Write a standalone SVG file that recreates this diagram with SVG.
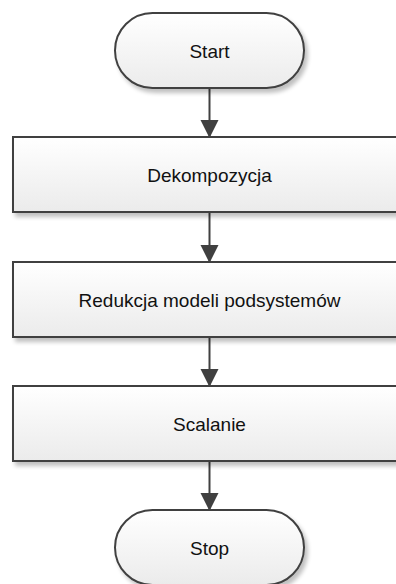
<svg xmlns="http://www.w3.org/2000/svg" width="396" height="584" viewBox="0 0 396 584">
  <defs>
    <linearGradient id="fillGrad" x1="0" y1="0" x2="0" y2="1">
      <stop offset="0" stop-color="#ffffff"/>
      <stop offset="1" stop-color="#ebebeb"/>
    </linearGradient>
    <filter id="shadow" x="-10%" y="-20%" width="130%" height="160%">
      <feGaussianBlur in="SourceAlpha" stdDeviation="2"/>
      <feOffset dx="3" dy="4" result="blur"/>
      <feComponentTransfer><feFuncA type="linear" slope="0.25"/></feComponentTransfer>
      <feMerge><feMergeNode/><feMergeNode in="SourceGraphic"/></feMerge>
    </filter>
    <marker id="arrow" markerWidth="18" markerHeight="20" refX="17" refY="9" orient="auto" markerUnits="userSpaceOnUse">
      <path d="M0,0 L18,9 L0,18 Z" fill="#404040"/>
    </marker>
  </defs>
  <style>
    .shape { fill: url(#fillGrad); stroke: #404040; stroke-width: 2; filter: url(#shadow); }
    .label { font-family: "Liberation Sans", Arial, sans-serif; font-size: 19px; fill: #111111; text-anchor: middle; }
    .conn { stroke: #404040; stroke-width: 2; fill: none; marker-end: url(#arrow); }
  </style>

  <g id="connectors">
    <line class="conn" x1="209.5" y1="89" x2="209.5" y2="137"/>
    <line class="conn" x1="209.5" y1="213" x2="209.5" y2="262"/>
    <line class="conn" x1="209.5" y1="338" x2="209.5" y2="386"/>
    <line class="conn" x1="209.5" y1="462" x2="209.5" y2="510"/>
  </g>

  <g id="start">
    <rect class="shape" x="115" y="13" width="189" height="75" rx="37.5" ry="37.5"/>
    <text class="label" x="209.5" y="57.5">Start</text>
  </g>

  <g id="dekompozycja">
    <rect class="shape" x="13" y="137" width="393" height="75"/>
    <text class="label" x="209.5" y="182">Dekompozycja</text>
  </g>

  <g id="redukcja">
    <rect class="shape" x="13" y="262" width="393" height="75"/>
    <text class="label" x="209.5" y="307">Redukcja modeli podsystemów</text>
  </g>

  <g id="scalanie">
    <rect class="shape" x="13" y="386" width="393" height="75"/>
    <text class="label" x="209.5" y="431">Scalanie</text>
  </g>

  <g id="stop">
    <rect class="shape" x="115" y="510" width="189" height="75" rx="37.5" ry="37.5"/>
    <text class="label" x="209.5" y="555">Stop</text>
  </g>
</svg>
